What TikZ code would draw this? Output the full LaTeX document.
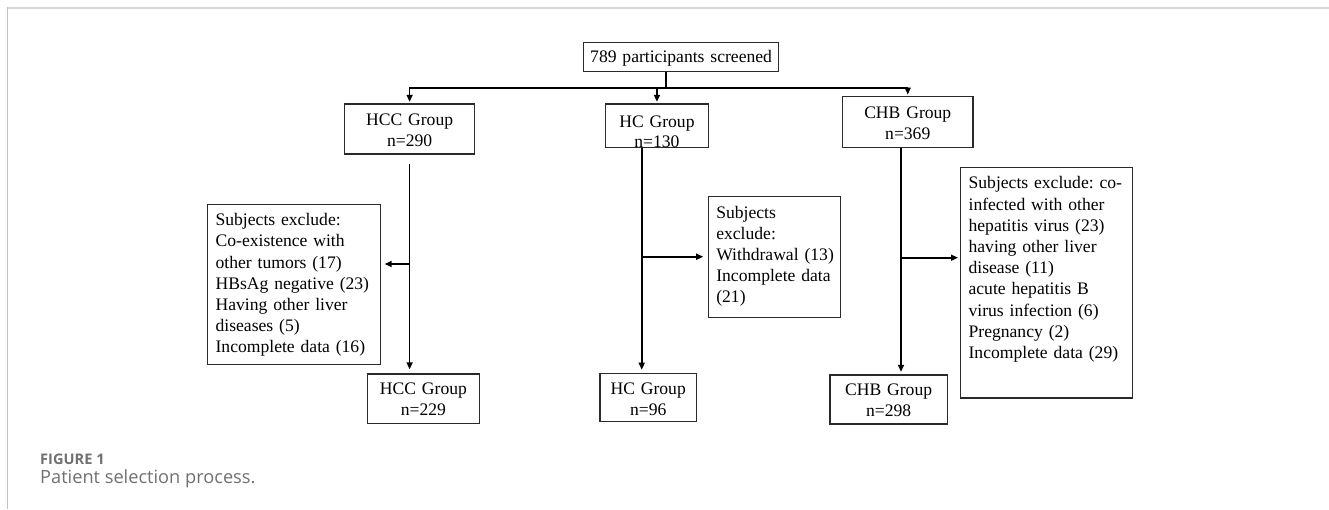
\documentclass[tikz,border=0pt]{standalone}
\usepackage{fontspec}
\setmainfont{Liberation Serif}
\newfontfamily\capfont{Open Sans}
\usetikzlibrary{arrows.meta}
\definecolor{boxc}{HTML}{2A2A2A}
\definecolor{framec}{HTML}{D6D6D6}
\definecolor{framecl}{HTML}{C4C4C4}
\definecolor{capc}{HTML}{707070}
\frenchspacing
\begin{document}
\begin{tikzpicture}[x=1pt,y=-1pt,
  box/.style={draw=boxc, line width=1.2pt, inner xsep=0pt, inner ysep=0pt,
    align=center, anchor=north west, font=\frenchspacing\fontsize{17.6}{20.5}\selectfont},
  xbox/.style={draw=boxc, line width=1.2pt, inner xsep=8pt, inner ysep=0pt,
    align=left, anchor=north west, font=\frenchspacing\fontsize{17.6}{21.2}\selectfont},
  conn/.style={line width=1.6pt, black},
  arr/.style={conn, -{Triangle[length=7pt,width=6pt]}, shorten >=1.5pt},
  capstyle/.style={anchor=base west, inner sep=0pt, text=capc},
]
\useasboundingbox (0,0) rectangle (1329,509);

% frame
\draw[framec, line width=2pt] (7,7.5) -- (1329,7.5);
\draw[framecl, line width=1.5pt] (7.5,6.5) -- (7.5,509);

% boxes
\node[box, text width=195pt, text height=20.3pt, text depth=8.7pt] (top) at (583,41.7) {789 participants screened};

\node[box, text width=130pt, text height=21.7pt, text depth=28.3pt] (hcc1) at (344,103.3) {HCC Group\\n=290};
\node[box, text width=102.7pt, text height=23.2pt, text depth=20.2pt] (hc1) at (605,103.3) {HC Group\\n=130};
\node[box, text width=130.3pt, text height=22pt, text depth=28.7pt] (chb1) at (842,96) {CHB Group\\n=369};

\node[xbox, text width=157pt, text height=21pt, text depth=139pt] (hccx) at (207,204)
  {Subjects exclude:\\Co-existence with\\other tumors (17)\\\mbox{HBsAg negative (23)}\\Having other liver\\diseases (5)\\\mbox{Incomplete data (16)}};
\node[xbox, text width=116.3pt, text height=21.5pt, text depth=99.2pt] (hcx) at (707.7,196)
  {Subjects\\exclude:\\\mbox{Withdrawal (13)}\\\mbox{Incomplete data}\\(21)};
\node[xbox, text width=155.7pt, text height=21.6pt, text depth=209pt] (chbx) at (960,166.7)
  {\mbox{Subjects exclude: co-}\\infected with other\\\mbox{hepatitis virus (23)}\\having other liver\\disease (11)\\acute hepatitis B\\virus infection (6)\\Pregnancy (2)\\\mbox{Incomplete data (29)}};

\node[box, text width=111.7pt, text height=21pt, text depth=28.2pt] (hcc2) at (367,373.3) {HCC Group\\n=229};
\node[box, text width=96.6pt, text height=21.3pt, text depth=27pt] (hc2) at (599.3,372.7) {HC Group\\n=96};
\node[box, text width=117.4pt, text height=20.7pt, text depth=28.3pt] (chb2) at (829.3,374.3) {CHB Group\\n=298};

% top split
\coordinate (bar) at (666,88);
\draw[conn] (top.south -| bar) -- (bar);
\draw[arr] (bar) -| (hcc1.north);
\draw[arr] (bar) -| (hc1.north);
\draw[arr] (bar) -| (chb1.north);

% HCC column
\coordinate (hccb) at (409,264);
\draw[arr, shorten >=4pt] ([yshift=-9pt]hcc1.south) -- (hcc1.south |- hcc2.north);
\draw[arr, shorten >=3.5pt] (hccb) -- (hccb -| hccx.east);

% HC column
\coordinate (hcl) at (641.7,256.7);
\draw[arr, shorten >=3pt] (hc1.south -| hcl) -- (hc2.north -| hcl);
\draw[arr, shorten >=4.5pt] (hcl) -- (hcl -| hcx.west);

% CHB column
\coordinate (chbl) at (901,257.7);
\draw[arr, shorten >=2.5pt] (chb1.south -| chbl) -- (chb2.north -| chbl);
\draw[arr, shorten >=2pt] (chbl) -- (chbl -| chbx.west);

% caption
\node[capstyle, font=\capfont\bfseries\fontsize{14.6}{18}\selectfont] (figlabel) at (40,464) {FIGURE 1};
\node[capstyle, font=\capfont\fontsize{18.2}{21}\selectfont] (caption) at (40,483) {Patient selection process.};
\end{tikzpicture}
\end{document}
